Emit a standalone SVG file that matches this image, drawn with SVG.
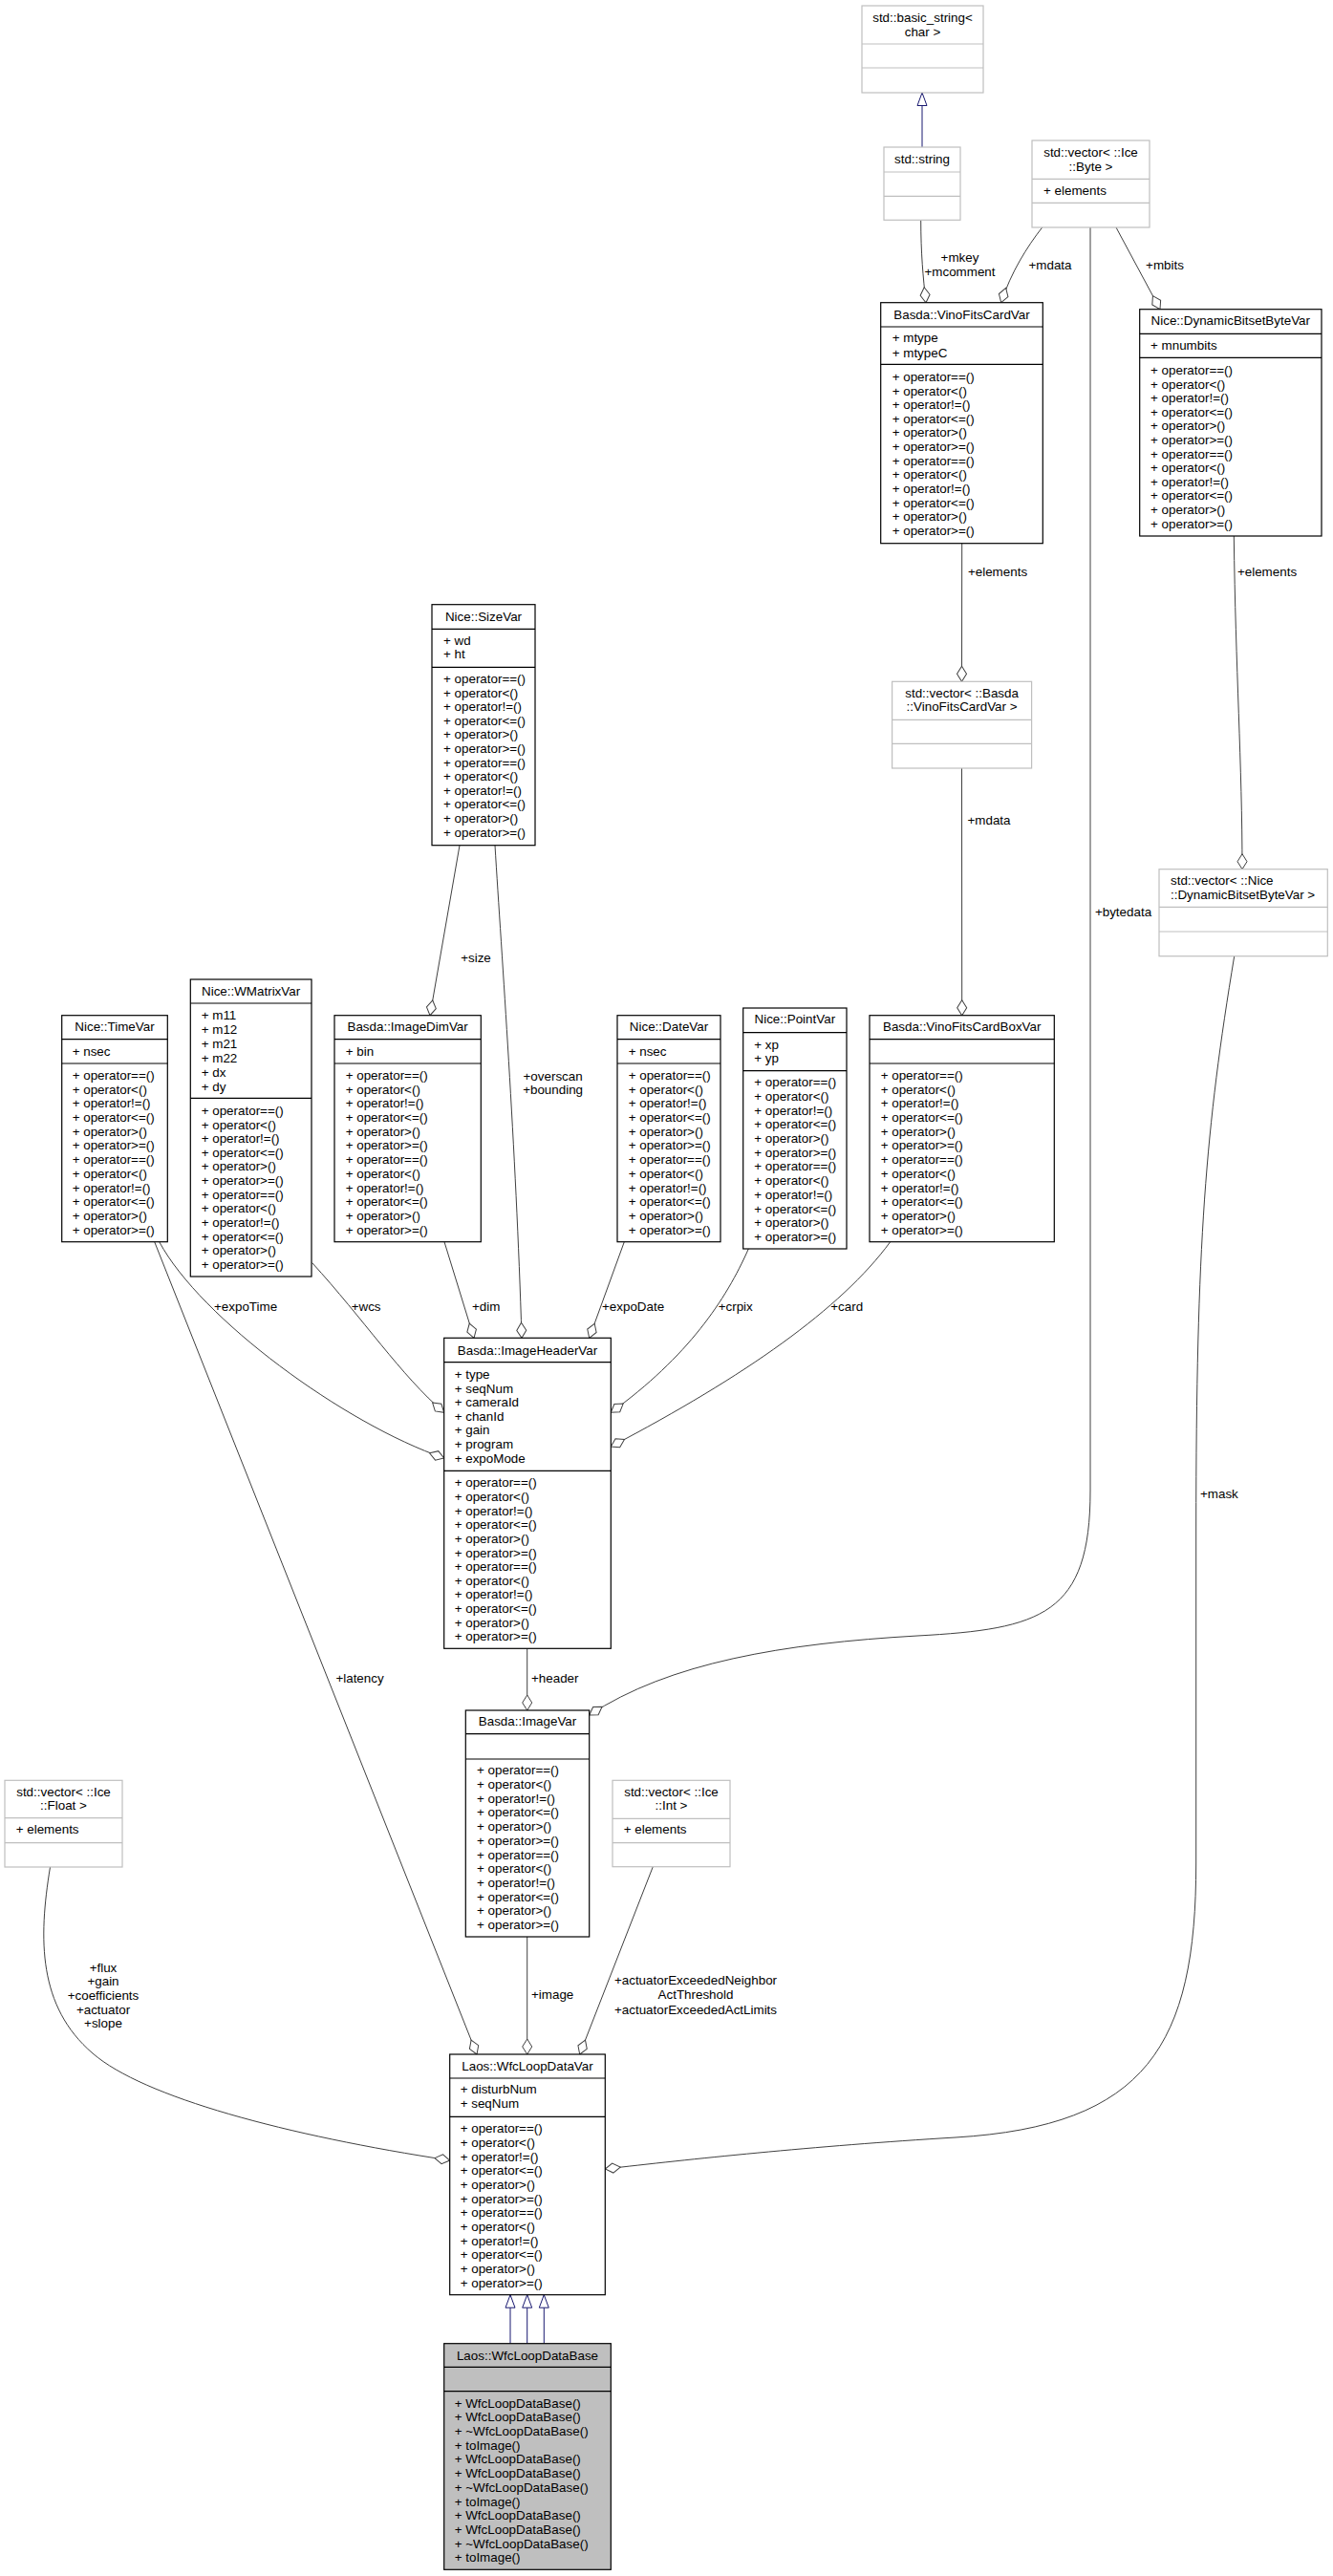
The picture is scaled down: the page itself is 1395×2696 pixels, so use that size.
<svg xmlns="http://www.w3.org/2000/svg" width="1395" height="2696" viewBox="0 0 1395 2696">
<style>
.bg{fill:#ffffff}
.n rect{fill:#ffffff;stroke:#000000;stroke-width:1.2}
.n line{stroke:#000000;stroke-width:1.2}
.g rect{fill:#ffffff;stroke:#bfbfbf;stroke-width:1.2}
.g line{stroke:#bfbfbf;stroke-width:1.2}
.n.base rect{fill:#bfbfbf}
text{font-family:"Liberation Sans",Arial,Helvetica,sans-serif;font-size:13.4px;fill:#000000}
.c{text-anchor:middle}
.e path{fill:none;stroke:#404040;stroke-width:1}
.e path.inh{stroke:#191970}
</style>
<defs>
<marker id="dia" markerUnits="userSpaceOnUse" markerWidth="18" markerHeight="12" viewBox="0 0 18 12" refX="17" refY="6" orient="auto" overflow="visible">
<path d="M1,6 L9,1 L17,6 L9,11 Z" fill="#ffffff" stroke="#404040" stroke-width="1"/>
</marker>
<marker id="tri" markerUnits="userSpaceOnUse" markerWidth="15" markerHeight="11" viewBox="0 0 15 11" refX="14" refY="5.5" orient="auto" overflow="visible">
<path d="M0.5,0.5 L14,5.5 L0.5,10.5 Z" fill="#ffffff" stroke="#191970" stroke-width="1"/>
</marker>
</defs>
<rect class="bg" x="0" y="0" width="1395" height="2696"/>

<g id="edges" class="e">
<path class="inh" d="M965,154 L965,97" marker-end="url(#tri)"/>
<path d="M963.7,230.3 C963.7,265 966,290 969,316.7" marker-end="url(#dia)"/>
<path d="M1090.7,238 C1075,258 1058,285 1047.7,316.7" marker-end="url(#dia)"/>
<path d="M1168,238 L1214,323.7" marker-end="url(#dia)"/>
<path d="M1141,238 L1141,1560 C1141,1690 1090,1705 960,1712 C820,1720 700,1740 616.7,1795" marker-end="url(#dia)"/>
<path d="M1291.3,561 C1293,700 1300,800 1300,909.7" marker-end="url(#dia)"/>
<path d="M1006.7,568.7 L1006.5,713.3" marker-end="url(#dia)"/>
<path d="M1006.5,804 L1006.7,1062.7" marker-end="url(#dia)"/>
<path d="M1291.7,1000.7 C1262,1180 1251.7,1300 1251.7,1600 L1251.7,1950 C1251.7,2140 1200,2225 1000,2237 C850,2246 720,2260 633.3,2270" marker-end="url(#dia)"/>
<path d="M481,884.7 L450,1062.7" marker-end="url(#dia)"/>
<path d="M518,884.7 C525,1000 540,1200 546,1400.3" marker-end="url(#dia)"/>
<path d="M166.7,1299.7 C210,1380 360,1490 464.7,1526" marker-end="url(#dia)"/>
<path d="M161.7,1299.7 L499,2150" marker-end="url(#dia)"/>
<path d="M326.7,1321.7 C380,1380 420,1440 464.7,1478.3" marker-end="url(#dia)"/>
<path d="M465,1299.7 L496,1400.3" marker-end="url(#dia)"/>
<path d="M653.3,1299.7 L616.7,1400.3" marker-end="url(#dia)"/>
<path d="M783.3,1307 C760,1360 720,1420 639.3,1478.3" marker-end="url(#dia)"/>
<path d="M931.7,1299.7 C880,1370 780,1440 639.3,1514" marker-end="url(#dia)"/>
<path d="M551.7,1725.3 L551.7,1790" marker-end="url(#dia)"/>
<path d="M551.7,2027 L551.7,2150" marker-end="url(#dia)"/>
<path d="M683.3,1953.7 L606.7,2150" marker-end="url(#dia)"/>
<path d="M52.5,1954 C40,2030 40,2100 97,2149 C150,2195 300,2235 470.7,2261" marker-end="url(#dia)"/>
<path class="inh" d="M534,2452.7 L534,2401.7" marker-end="url(#tri)"/>
<path class="inh" d="M551.7,2452.7 L551.7,2401.7" marker-end="url(#tri)"/>
<path class="inh" d="M569.3,2452.7 L569.3,2401.7" marker-end="url(#tri)"/>
</g>

<g id="edge-labels">
<text class="c" x="1004.5" y="273.6">+mkey</text>
<text class="c" x="1004.5" y="288.6">+mcomment</text>
<text class="c" x="1099" y="281.6">+mdata</text>
<text class="c" x="1219" y="281.6">+mbits</text>
<text class="c" x="1044" y="603.1">+elements</text>
<text class="c" x="1326" y="603.1">+elements</text>
<text class="c" x="1175.5" y="959.1">+bytedata</text>
<text class="c" x="1035" y="862.6">+mdata</text>
<text class="c" x="498" y="1007.1">+size</text>
<text class="c" x="578.6" y="1130.8">+overscan</text>
<text class="c" x="578.6" y="1144.6">+bounding</text>
<text x="224" y="1372.3">+expoTime</text>
<text x="367.7" y="1372.3">+wcs</text>
<text x="494" y="1372.3">+dim</text>
<text x="630" y="1372.3">+expoDate</text>
<text x="751.7" y="1372.3">+crpix</text>
<text x="869.3" y="1372.3">+card</text>
<text x="1256" y="1567.9">+mask</text>
<text x="351.4" y="1761.3">+latency</text>
<text x="556" y="1761.3">+header</text>
<text class="c" x="108" y="2063.6">+flux</text>
<text class="c" x="108" y="2077.9">+gain</text>
<text class="c" x="108" y="2092.6">+coefficients</text>
<text class="c" x="108" y="2107.6">+actuator</text>
<text class="c" x="108" y="2121.6">+slope</text>
<text x="556" y="2092.3">+image</text>
<text class="c" x="728" y="2077.3">+actuatorExceededNeighbor</text>
<text class="c" x="728" y="2092.3">ActThreshold</text>
<text class="c" x="728" y="2107.6">+actuatorExceededActLimits</text>
</g>

<g id="basic_string" class="g">
<rect x="902" y="6" width="127" height="91"/>
<line x1="902" y1="46" x2="1029" y2="46"/><line x1="902" y1="71" x2="1029" y2="71"/>
<text class="c" x="965.5" y="22.9">std::basic_string&lt;</text>
<text class="c" x="965.5" y="37.9">char &gt;</text>
</g>

<g id="std_string" class="g">
<rect x="925" y="154" width="80" height="76.3"/>
<line x1="925" y1="180" x2="1005" y2="180"/><line x1="925" y1="205.3" x2="1005" y2="205.3"/>
<text class="c" x="965" y="171.3">std::string</text>
</g>

<g id="vector_ice_byte" class="g">
<rect x="1080" y="147" width="123" height="91"/>
<line x1="1080" y1="187.3" x2="1203" y2="187.3"/><line x1="1080" y1="212.3" x2="1203" y2="212.3"/>
<text class="c" x="1141.5" y="163.6">std::vector&lt; ::Ice</text>
<text class="c" x="1141.5" y="178.6">::Byte &gt;</text>
<text x="1092" y="203.6">+ elements</text>
</g>

<g id="VinoFitsCardVar" class="n">
<rect x="921.7" y="316.7" width="169.6" height="252"/>
<line x1="921.7" y1="342" x2="1091.3" y2="342"/><line x1="921.7" y1="381.3" x2="1091.3" y2="381.3"/>
<text class="c" x="1006.5" y="333.6">Basda::VinoFitsCardVar</text>
<text x="933.7" y="358.3">+ mtype</text>
<text x="933.7" y="373.6">+ mtypeC</text>
<text x="933.7" y="398.9"><tspan x="933.7" dy="0">+ operator==()</tspan><tspan x="933.7" dy="14.64">+ operator&lt;()</tspan><tspan x="933.7" dy="14.64">+ operator!=()</tspan><tspan x="933.7" dy="14.64">+ operator&lt;=()</tspan><tspan x="933.7" dy="14.64">+ operator&gt;()</tspan><tspan x="933.7" dy="14.64">+ operator&gt;=()</tspan><tspan x="933.7" dy="14.64">+ operator==()</tspan><tspan x="933.7" dy="14.64">+ operator&lt;()</tspan><tspan x="933.7" dy="14.64">+ operator!=()</tspan><tspan x="933.7" dy="14.64">+ operator&lt;=()</tspan><tspan x="933.7" dy="14.64">+ operator&gt;()</tspan><tspan x="933.7" dy="14.64">+ operator&gt;=()</tspan></text>
</g>

<g id="DynamicBitsetByteVar" class="n">
<rect x="1192.7" y="323.7" width="190.3" height="237.3"/>
<line x1="1192.7" y1="349.3" x2="1383" y2="349.3"/><line x1="1192.7" y1="374.3" x2="1383" y2="374.3"/>
<text class="c" x="1287.8" y="340.3">Nice::DynamicBitsetByteVar</text>
<text x="1204" y="365.6">+ mnumbits</text>
<text x="1204" y="391.9"><tspan x="1204" dy="0">+ operator==()</tspan><tspan x="1204" dy="14.61">+ operator&lt;()</tspan><tspan x="1204" dy="14.61">+ operator!=()</tspan><tspan x="1204" dy="14.61">+ operator&lt;=()</tspan><tspan x="1204" dy="14.61">+ operator&gt;()</tspan><tspan x="1204" dy="14.61">+ operator&gt;=()</tspan><tspan x="1204" dy="14.61">+ operator==()</tspan><tspan x="1204" dy="14.61">+ operator&lt;()</tspan><tspan x="1204" dy="14.61">+ operator!=()</tspan><tspan x="1204" dy="14.61">+ operator&lt;=()</tspan><tspan x="1204" dy="14.61">+ operator&gt;()</tspan><tspan x="1204" dy="14.61">+ operator&gt;=()</tspan></text>
</g>

<g id="SizeVar" class="n">
<rect x="452" y="632.7" width="108" height="252"/>
<line x1="452" y1="658.3" x2="560" y2="658.3"/><line x1="452" y1="698.3" x2="560" y2="698.3"/>
<text class="c" x="506" y="649.6">Nice::SizeVar</text>
<text x="464" y="674.6">+ wd</text>
<text x="464" y="688.9">+ ht</text>
<text x="464" y="714.9"><tspan x="464" dy="0">+ operator==()</tspan><tspan x="464" dy="14.6">+ operator&lt;()</tspan><tspan x="464" dy="14.6">+ operator!=()</tspan><tspan x="464" dy="14.6">+ operator&lt;=()</tspan><tspan x="464" dy="14.6">+ operator&gt;()</tspan><tspan x="464" dy="14.6">+ operator&gt;=()</tspan><tspan x="464" dy="14.6">+ operator==()</tspan><tspan x="464" dy="14.6">+ operator&lt;()</tspan><tspan x="464" dy="14.6">+ operator!=()</tspan><tspan x="464" dy="14.6">+ operator&lt;=()</tspan><tspan x="464" dy="14.6">+ operator&gt;()</tspan><tspan x="464" dy="14.6">+ operator&gt;=()</tspan></text>
</g>

<g id="vector_basda_vinofitscardvar" class="g">
<rect x="933.6" y="713.3" width="146" height="90.7"/>
<line x1="933.6" y1="753.3" x2="1079.6" y2="753.3"/><line x1="933.6" y1="778.3" x2="1079.6" y2="778.3"/>
<text class="c" x="1006.6" y="729.6">std::vector&lt; ::Basda</text>
<text class="c" x="1006.6" y="743.9">::VinoFitsCardVar &gt;</text>
</g>

<g id="vector_nice_dynamicbitsetbytevar" class="g">
<rect x="1213" y="909.7" width="176.3" height="91"/>
<line x1="1213" y1="949.3" x2="1389.3" y2="949.3"/><line x1="1213" y1="975" x2="1389.3" y2="975"/>
<text x="1225" y="926.3">std::vector&lt; ::Nice</text>
<text x="1225" y="941.3">::DynamicBitsetByteVar &gt;</text>
</g>

<g id="TimeVar" class="n">
<rect x="64.7" y="1062.7" width="110.6" height="237"/>
<line x1="64.7" y1="1087.7" x2="175.3" y2="1087.7"/><line x1="64.7" y1="1113" x2="175.3" y2="1113"/>
<text class="c" x="120" y="1079.3">Nice::TimeVar</text>
<text x="75.7" y="1104.6">+ nsec</text>
<text x="75.7" y="1129.9"><tspan x="75.7" dy="0">+ operator==()</tspan><tspan x="75.7" dy="14.7">+ operator&lt;()</tspan><tspan x="75.7" dy="14.7">+ operator!=()</tspan><tspan x="75.7" dy="14.7">+ operator&lt;=()</tspan><tspan x="75.7" dy="14.7">+ operator&gt;()</tspan><tspan x="75.7" dy="14.7">+ operator&gt;=()</tspan><tspan x="75.7" dy="14.7">+ operator==()</tspan><tspan x="75.7" dy="14.7">+ operator&lt;()</tspan><tspan x="75.7" dy="14.7">+ operator!=()</tspan><tspan x="75.7" dy="14.7">+ operator&lt;=()</tspan><tspan x="75.7" dy="14.7">+ operator&gt;()</tspan><tspan x="75.7" dy="14.7">+ operator&gt;=()</tspan></text>
</g>

<g id="WMatrixVar" class="n">
<rect x="199.3" y="1025" width="126.7" height="311"/>
<line x1="199.3" y1="1050" x2="326" y2="1050"/><line x1="199.3" y1="1149.3" x2="326" y2="1149.3"/>
<text class="c" x="262.6" y="1042.1">Nice::WMatrixVar</text>
<text x="210.7" y="1067.3"><tspan x="210.7" dy="0">+ m11</tspan><tspan x="210.7" dy="14.93">+ m12</tspan><tspan x="210.7" dy="14.93">+ m21</tspan><tspan x="210.7" dy="14.93">+ m22</tspan><tspan x="210.7" dy="14.93">+ dx</tspan><tspan x="210.7" dy="14.93">+ dy</tspan></text>
<text x="210.7" y="1166.9"><tspan x="210.7" dy="0">+ operator==()</tspan><tspan x="210.7" dy="14.64">+ operator&lt;()</tspan><tspan x="210.7" dy="14.64">+ operator!=()</tspan><tspan x="210.7" dy="14.64">+ operator&lt;=()</tspan><tspan x="210.7" dy="14.64">+ operator&gt;()</tspan><tspan x="210.7" dy="14.64">+ operator&gt;=()</tspan><tspan x="210.7" dy="14.64">+ operator==()</tspan><tspan x="210.7" dy="14.64">+ operator&lt;()</tspan><tspan x="210.7" dy="14.64">+ operator!=()</tspan><tspan x="210.7" dy="14.64">+ operator&lt;=()</tspan><tspan x="210.7" dy="14.64">+ operator&gt;()</tspan><tspan x="210.7" dy="14.64">+ operator&gt;=()</tspan></text>
</g>

<g id="ImageDimVar" class="n">
<rect x="350" y="1062.7" width="153.3" height="237"/>
<line x1="350" y1="1087.7" x2="503.3" y2="1087.7"/><line x1="350" y1="1113" x2="503.3" y2="1113"/>
<text class="c" x="426.6" y="1079.3">Basda::ImageDimVar</text>
<text x="361.7" y="1104.6">+ bin</text>
<text x="361.7" y="1129.9"><tspan x="361.7" dy="0">+ operator==()</tspan><tspan x="361.7" dy="14.7">+ operator&lt;()</tspan><tspan x="361.7" dy="14.7">+ operator!=()</tspan><tspan x="361.7" dy="14.7">+ operator&lt;=()</tspan><tspan x="361.7" dy="14.7">+ operator&gt;()</tspan><tspan x="361.7" dy="14.7">+ operator&gt;=()</tspan><tspan x="361.7" dy="14.7">+ operator==()</tspan><tspan x="361.7" dy="14.7">+ operator&lt;()</tspan><tspan x="361.7" dy="14.7">+ operator!=()</tspan><tspan x="361.7" dy="14.7">+ operator&lt;=()</tspan><tspan x="361.7" dy="14.7">+ operator&gt;()</tspan><tspan x="361.7" dy="14.7">+ operator&gt;=()</tspan></text>
</g>

<g id="DateVar" class="n">
<rect x="646" y="1062.7" width="108" height="237"/>
<line x1="646" y1="1087.7" x2="754" y2="1087.7"/><line x1="646" y1="1113" x2="754" y2="1113"/>
<text class="c" x="700" y="1079.3">Nice::DateVar</text>
<text x="657.7" y="1104.6">+ nsec</text>
<text x="657.7" y="1129.9"><tspan x="657.7" dy="0">+ operator==()</tspan><tspan x="657.7" dy="14.7">+ operator&lt;()</tspan><tspan x="657.7" dy="14.7">+ operator!=()</tspan><tspan x="657.7" dy="14.7">+ operator&lt;=()</tspan><tspan x="657.7" dy="14.7">+ operator&gt;()</tspan><tspan x="657.7" dy="14.7">+ operator&gt;=()</tspan><tspan x="657.7" dy="14.7">+ operator==()</tspan><tspan x="657.7" dy="14.7">+ operator&lt;()</tspan><tspan x="657.7" dy="14.7">+ operator!=()</tspan><tspan x="657.7" dy="14.7">+ operator&lt;=()</tspan><tspan x="657.7" dy="14.7">+ operator&gt;()</tspan><tspan x="657.7" dy="14.7">+ operator&gt;=()</tspan></text>
</g>

<g id="PointVar" class="n">
<rect x="777.7" y="1055" width="108.3" height="252"/>
<line x1="777.7" y1="1080.7" x2="886" y2="1080.7"/><line x1="777.7" y1="1120.7" x2="886" y2="1120.7"/>
<text class="c" x="831.8" y="1071.3">Nice::PointVar</text>
<text x="789.3" y="1097.6">+ xp</text>
<text x="789.3" y="1111.9">+ yp</text>
<text x="789.3" y="1137.3"><tspan x="789.3" dy="0">+ operator==()</tspan><tspan x="789.3" dy="14.69">+ operator&lt;()</tspan><tspan x="789.3" dy="14.69">+ operator!=()</tspan><tspan x="789.3" dy="14.69">+ operator&lt;=()</tspan><tspan x="789.3" dy="14.69">+ operator&gt;()</tspan><tspan x="789.3" dy="14.69">+ operator&gt;=()</tspan><tspan x="789.3" dy="14.69">+ operator==()</tspan><tspan x="789.3" dy="14.69">+ operator&lt;()</tspan><tspan x="789.3" dy="14.69">+ operator!=()</tspan><tspan x="789.3" dy="14.69">+ operator&lt;=()</tspan><tspan x="789.3" dy="14.69">+ operator&gt;()</tspan><tspan x="789.3" dy="14.69">+ operator&gt;=()</tspan></text>
</g>

<g id="VinoFitsCardBoxVar" class="n">
<rect x="910" y="1062.7" width="193.3" height="237"/>
<line x1="910" y1="1087.7" x2="1103.3" y2="1087.7"/><line x1="910" y1="1113" x2="1103.3" y2="1113"/>
<text class="c" x="1006.7" y="1079.3">Basda::VinoFitsCardBoxVar</text>
<text x="921.7" y="1129.9"><tspan x="921.7" dy="0">+ operator==()</tspan><tspan x="921.7" dy="14.7">+ operator&lt;()</tspan><tspan x="921.7" dy="14.7">+ operator!=()</tspan><tspan x="921.7" dy="14.7">+ operator&lt;=()</tspan><tspan x="921.7" dy="14.7">+ operator&gt;()</tspan><tspan x="921.7" dy="14.7">+ operator&gt;=()</tspan><tspan x="921.7" dy="14.7">+ operator==()</tspan><tspan x="921.7" dy="14.7">+ operator&lt;()</tspan><tspan x="921.7" dy="14.7">+ operator!=()</tspan><tspan x="921.7" dy="14.7">+ operator&lt;=()</tspan><tspan x="921.7" dy="14.7">+ operator&gt;()</tspan><tspan x="921.7" dy="14.7">+ operator&gt;=()</tspan></text>
</g>

<g id="ImageHeaderVar" class="n">
<rect x="464.7" y="1400.3" width="174.6" height="325"/>
<line x1="464.7" y1="1425.7" x2="639.3" y2="1425.7"/><line x1="464.7" y1="1539.3" x2="639.3" y2="1539.3"/>
<text class="c" x="552" y="1417.9">Basda::ImageHeaderVar</text>
<text x="475.7" y="1442.9"><tspan x="475.7" dy="0">+ type</tspan><tspan x="475.7" dy="14.62">+ seqNum</tspan><tspan x="475.7" dy="14.62">+ cameraId</tspan><tspan x="475.7" dy="14.62">+ chanId</tspan><tspan x="475.7" dy="14.62">+ gain</tspan><tspan x="475.7" dy="14.62">+ program</tspan><tspan x="475.7" dy="14.62">+ expoMode</tspan></text>
<text x="475.7" y="1556.3"><tspan x="475.7" dy="0">+ operator==()</tspan><tspan x="475.7" dy="14.64">+ operator&lt;()</tspan><tspan x="475.7" dy="14.64">+ operator!=()</tspan><tspan x="475.7" dy="14.64">+ operator&lt;=()</tspan><tspan x="475.7" dy="14.64">+ operator&gt;()</tspan><tspan x="475.7" dy="14.64">+ operator&gt;=()</tspan><tspan x="475.7" dy="14.64">+ operator==()</tspan><tspan x="475.7" dy="14.64">+ operator&lt;()</tspan><tspan x="475.7" dy="14.64">+ operator!=()</tspan><tspan x="475.7" dy="14.64">+ operator&lt;=()</tspan><tspan x="475.7" dy="14.64">+ operator&gt;()</tspan><tspan x="475.7" dy="14.64">+ operator&gt;=()</tspan></text>
</g>

<g id="ImageVar" class="n">
<rect x="487.3" y="1790" width="129.4" height="237"/>
<line x1="487.3" y1="1814.7" x2="616.7" y2="1814.7"/><line x1="487.3" y1="1841" x2="616.7" y2="1841"/>
<text class="c" x="552" y="1806.3">Basda::ImageVar</text>
<text x="499" y="1857.3"><tspan x="499" dy="0">+ operator==()</tspan><tspan x="499" dy="14.7">+ operator&lt;()</tspan><tspan x="499" dy="14.7">+ operator!=()</tspan><tspan x="499" dy="14.7">+ operator&lt;=()</tspan><tspan x="499" dy="14.7">+ operator&gt;()</tspan><tspan x="499" dy="14.7">+ operator&gt;=()</tspan><tspan x="499" dy="14.7">+ operator==()</tspan><tspan x="499" dy="14.7">+ operator&lt;()</tspan><tspan x="499" dy="14.7">+ operator!=()</tspan><tspan x="499" dy="14.7">+ operator&lt;=()</tspan><tspan x="499" dy="14.7">+ operator&gt;()</tspan><tspan x="499" dy="14.7">+ operator&gt;=()</tspan></text>
</g>

<g id="vector_ice_int" class="g">
<rect x="641" y="1863.3" width="123" height="90.4"/>
<line x1="641" y1="1903.3" x2="764" y2="1903.3"/><line x1="641" y1="1928.7" x2="764" y2="1928.7"/>
<text class="c" x="702.5" y="1879.6">std::vector&lt; ::Ice</text>
<text class="c" x="702.5" y="1893.9">::Int &gt;</text>
<text x="652.7" y="1919.3">+ elements</text>
</g>

<g id="vector_ice_float" class="g">
<rect x="5" y="1863.3" width="123" height="90.7"/>
<line x1="5" y1="1902.7" x2="128" y2="1902.7"/><line x1="5" y1="1928.7" x2="128" y2="1928.7"/>
<text class="c" x="66.5" y="1879.6">std::vector&lt; ::Ice</text>
<text class="c" x="66.5" y="1893.9">::Float &gt;</text>
<text x="16.7" y="1919.3">+ elements</text>
</g>

<g id="WfcLoopDataVar" class="n">
<rect x="470.7" y="2150" width="162.6" height="251.7"/>
<line x1="470.7" y1="2175" x2="633.3" y2="2175"/><line x1="470.7" y1="2215.3" x2="633.3" y2="2215.3"/>
<text class="c" x="552" y="2166.9">Laos::WfcLoopDataVar</text>
<text x="481.7" y="2191.3">+ disturbNum</text>
<text x="481.7" y="2206.3">+ seqNum</text>
<text x="481.7" y="2232.3"><tspan x="481.7" dy="0">+ operator==()</tspan><tspan x="481.7" dy="14.66">+ operator&lt;()</tspan><tspan x="481.7" dy="14.66">+ operator!=()</tspan><tspan x="481.7" dy="14.66">+ operator&lt;=()</tspan><tspan x="481.7" dy="14.66">+ operator&gt;()</tspan><tspan x="481.7" dy="14.66">+ operator&gt;=()</tspan><tspan x="481.7" dy="14.66">+ operator==()</tspan><tspan x="481.7" dy="14.66">+ operator&lt;()</tspan><tspan x="481.7" dy="14.66">+ operator!=()</tspan><tspan x="481.7" dy="14.66">+ operator&lt;=()</tspan><tspan x="481.7" dy="14.66">+ operator&gt;()</tspan><tspan x="481.7" dy="14.66">+ operator&gt;=()</tspan></text>
</g>

<g id="WfcLoopDataBase" class="n base">
<rect x="464.7" y="2452.7" width="174.6" height="236.6"/>
<line x1="464.7" y1="2477.3" x2="639.3" y2="2477.3"/><line x1="464.7" y1="2502.7" x2="639.3" y2="2502.7"/>
<text class="c" x="552" y="2469.6">Laos::WfcLoopDataBase</text>
<text x="475.7" y="2519.6"><tspan x="475.7" dy="0">+ WfcLoopDataBase()</tspan><tspan x="475.7" dy="14.7">+ WfcLoopDataBase()</tspan><tspan x="475.7" dy="14.7">+ ~WfcLoopDataBase()</tspan><tspan x="475.7" dy="14.7">+ toImage()</tspan><tspan x="475.7" dy="14.7">+ WfcLoopDataBase()</tspan><tspan x="475.7" dy="14.7">+ WfcLoopDataBase()</tspan><tspan x="475.7" dy="14.7">+ ~WfcLoopDataBase()</tspan><tspan x="475.7" dy="14.7">+ toImage()</tspan><tspan x="475.7" dy="14.7">+ WfcLoopDataBase()</tspan><tspan x="475.7" dy="14.7">+ WfcLoopDataBase()</tspan><tspan x="475.7" dy="14.7">+ ~WfcLoopDataBase()</tspan><tspan x="475.7" dy="14.7">+ toImage()</tspan></text>
</g>
</svg>
